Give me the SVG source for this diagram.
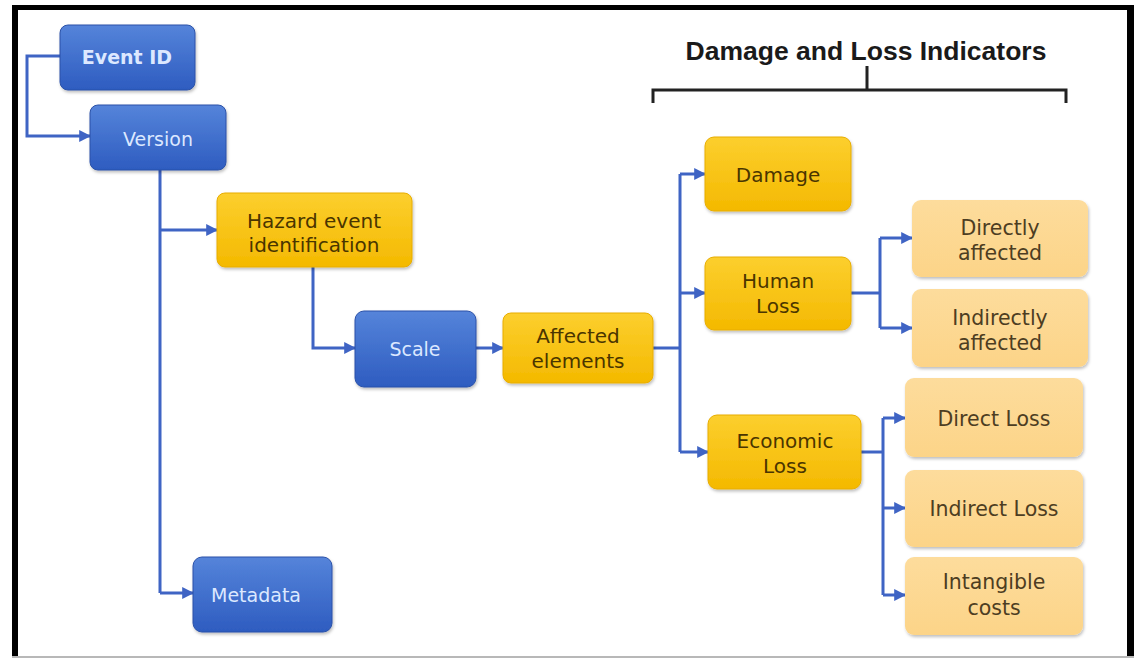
<svg xmlns="http://www.w3.org/2000/svg" width="1136" height="659" viewBox="0 0 1136 659">
<defs>
<linearGradient id="gBlue" x1="0" y1="0" x2="0" y2="1">
<stop offset="0" stop-color="#5584da"/><stop offset="1" stop-color="#2e5cc0"/>
</linearGradient>
<linearGradient id="gYel" x1="0" y1="0" x2="0" y2="1">
<stop offset="0" stop-color="#fccf2e"/><stop offset="1" stop-color="#f4b900"/>
</linearGradient>
<linearGradient id="gLight" x1="0" y1="0" x2="0" y2="1">
<stop offset="0" stop-color="#fddc9c"/><stop offset="1" stop-color="#fcd488"/>
</linearGradient>
<filter id="sh" x="-10%" y="-10%" width="120%" height="130%">
<feDropShadow dx="1" dy="2" stdDeviation="1.5" flood-color="#000" flood-opacity="0.25"/>
</filter>
<marker id="arr" viewBox="0 0 10 10" refX="9" refY="5" markerWidth="4" markerHeight="4" orient="auto" markerUnits="strokeWidth">
<path d="M0,0 L10,5 L0,10 z" fill="#3f64c4"/>
</marker>
<style>
.blue rect{fill:url(#gBlue);stroke:#2a51a8;stroke-width:1;filter:url(#sh)}
.yel rect{fill:url(#gYel);stroke:#e8ad00;stroke-width:1;filter:url(#sh)}
.lt rect{fill:url(#gLight);filter:url(#sh)}
.blue text{fill:#dce8ff;font-family:"DejaVu Sans",Verdana,sans-serif;font-size:19px;text-anchor:middle}
.yel text{fill:#4a3500;font-family:"DejaVu Sans",Verdana,sans-serif;font-size:20px;text-anchor:middle}
.lt text{fill:#4d3d22;font-family:"DejaVu Sans",Verdana,sans-serif;font-size:20.5px;text-anchor:middle}
.c{fill:none;stroke:#3f64c4;stroke-width:3}
.a{marker-end:url(#arr)}
</style>
</defs>
<rect width="1136" height="659" fill="#ffffff"/>
<g id="frame">
<rect x="12" y="5" width="1122" height="5" fill="#000"/>
<rect x="12" y="5" width="6" height="652" fill="#000"/>
<rect x="1127" y="5" width="7" height="652" fill="#000"/>
<rect x="12" y="656" width="1122" height="2" fill="#b8b8b8"/>
</g>
<g id="title">
<text x="866" y="60" font-family="Liberation Sans,Arial,sans-serif" font-weight="bold" font-size="26.5" text-anchor="middle" fill="#1a1a1a">Damage and Loss Indicators</text>
<path d="M653,103 L653,90 L1066,90 L1066,103 M867,66 L867,90" fill="none" stroke="#222" stroke-width="3"/>
</g>
<g id="connectors">
<path class="c a" d="M60,56 L27,56 L27,136 L90,136"/>
<path class="c" d="M160,170 L160,593"/>
<path class="c a" d="M160,230 L217,230"/>
<path class="c a" d="M160,593 L193,593"/>
<path class="c a" d="M313,267 L313,348 L355,348"/>
<path class="c a" d="M476,348 L503,348"/>
<path class="c" d="M653,348 L680,348 M680,174 L680,452"/>
<path class="c a" d="M680,174 L705,174"/>
<path class="c a" d="M680,293 L705,293"/>
<path class="c a" d="M680,452 L708,452"/>
<path class="c" d="M851,293 L880,293 M880,238 L880,328"/>
<path class="c a" d="M880,238 L912,238"/>
<path class="c a" d="M880,328 L912,328"/>
<path class="c" d="M861,452 L883,452 M883,418 L883,595"/>
<path class="c a" d="M883,418 L905,418"/>
<path class="c a" d="M883,508 L905,508"/>
<path class="c a" d="M883,595 L905,595"/>
</g>
<g id="event-id" class="blue"><rect x="60" y="25" width="135" height="65" rx="8"/><text x="127" y="64" font-weight="bold">Event ID</text></g>
<g id="version" class="blue"><rect x="90" y="105" width="136" height="65" rx="8"/><text x="158" y="146">Version</text></g>
<g id="scale" class="blue"><rect x="355" y="311" width="121" height="76" rx="9"/><text x="415" y="356">Scale</text></g>
<g id="metadata" class="blue"><rect x="193" y="557" width="139" height="75" rx="9"/><text x="256" y="602">Metadata</text></g>
<g id="hazard" class="yel"><rect x="217" y="193" width="195" height="74" rx="8"/><text x="314" y="228">Hazard event</text><text x="314" y="252">identification</text></g>
<g id="affected" class="yel"><rect x="503" y="313" width="150" height="70" rx="8"/><text x="578" y="343">Affected</text><text x="578" y="368">elements</text></g>
<g id="damage" class="yel"><rect x="705" y="137" width="146" height="74" rx="9"/><text x="778" y="182">Damage</text></g>
<g id="human-loss" class="yel"><rect x="705" y="257" width="146" height="73" rx="9"/><text x="778" y="288">Human</text><text x="778" y="313">Loss</text></g>
<g id="economic-loss" class="yel"><rect x="708" y="415" width="153" height="74" rx="9"/><text x="785" y="448">Economic</text><text x="785" y="473">Loss</text></g>
<g id="directly-affected" class="lt"><rect x="912" y="200" width="176" height="77" rx="9"/><text x="1000" y="235">Directly</text><text x="1000" y="260">affected</text></g>
<g id="indirectly-affected" class="lt"><rect x="912" y="289" width="176" height="78" rx="9"/><text x="1000" y="325">Indirectly</text><text x="1000" y="350">affected</text></g>
<g id="direct-loss" class="lt"><rect x="905" y="378" width="178" height="79" rx="9"/><text x="994" y="426">Direct Loss</text></g>
<g id="indirect-loss" class="lt"><rect x="905" y="470" width="178" height="77" rx="9"/><text x="994" y="516">Indirect Loss</text></g>
<g id="intangible-costs" class="lt"><rect x="905" y="557" width="178" height="78" rx="9"/><text x="994" y="589">Intangible</text><text x="994" y="615">costs</text></g>
</svg>
